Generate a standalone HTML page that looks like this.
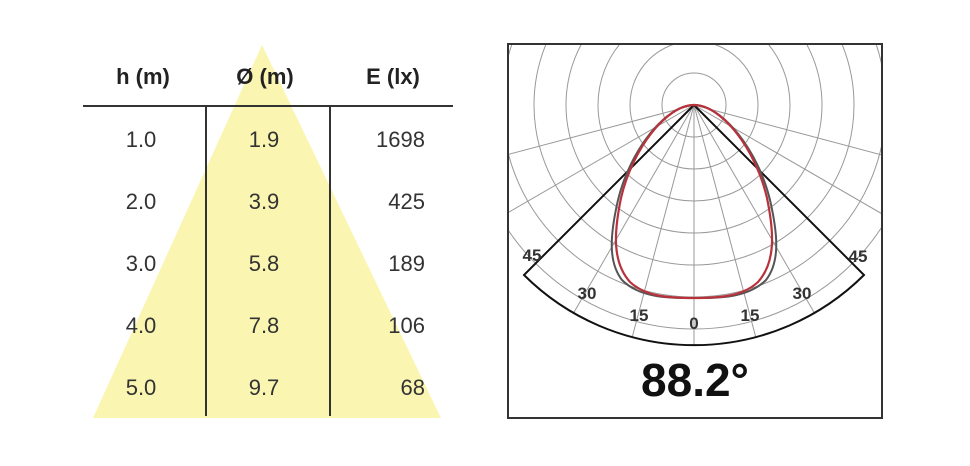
<!DOCTYPE html>
<html><head><style>body{margin:0;background:#fff}</style></head><body>
<svg width="970" height="461" xmlns="http://www.w3.org/2000/svg" font-family="'Liberation Sans',sans-serif">
<rect width="970" height="461" fill="#fff"/>
<polygon points="262,45 93,418 441,418" fill="#faf5b0"/>
<g font-size="22" font-weight="bold" fill="#222" text-anchor="middle">
<text x="143" y="84">h (m)</text><text x="265" y="84">Ø (m)</text><text x="393" y="84">E (lx)</text>
</g>
<line x1="83" y1="106" x2="453" y2="106" stroke="#333" stroke-width="2"/>
<line x1="206" y1="106" x2="206" y2="416" stroke="#333" stroke-width="2"/>
<line x1="330" y1="106" x2="330" y2="416" stroke="#333" stroke-width="2"/>
<g font-size="22" fill="#333">
<g text-anchor="middle">
<text x="141" y="147">1.0</text><text x="141" y="209">2.0</text><text x="141" y="271">3.0</text><text x="141" y="333">4.0</text><text x="141" y="395">5.0</text>
<text x="264" y="147">1.9</text><text x="264" y="209">3.9</text><text x="264" y="271">5.8</text><text x="264" y="333">7.8</text><text x="264" y="395">9.7</text>
</g>
<g text-anchor="end">
<text x="425" y="147">1698</text><text x="425" y="209">425</text><text x="425" y="271">189</text><text x="425" y="333">106</text><text x="425" y="395">68</text>
</g></g>
<defs><clipPath id="c"><rect x="509" y="45" width="372" height="372"/></clipPath></defs>
<g clip-path="url(#c)" stroke="#999" stroke-width="1" fill="none">
<circle cx="694" cy="105" r="32"/><circle cx="694" cy="105" r="64"/><circle cx="694" cy="105" r="96"/>
<circle cx="694" cy="105" r="128"/><circle cx="694" cy="105" r="160"/><circle cx="694" cy="105" r="192"/>
<circle cx="694" cy="105" r="224"/>
<line x1="694" y1="105" x2="694" y2="346"/>
<line x1="694" y1="105" x2="756" y2="338"/><line x1="694" y1="105" x2="632" y2="338"/>
<line x1="694" y1="105" x2="815" y2="314"/><line x1="694" y1="105" x2="573" y2="314"/>
<line x1="694" y1="105" x2="864" y2="275"/><line x1="694" y1="105" x2="524" y2="275"/>
<line x1="694" y1="105" x2="903" y2="226"/><line x1="694" y1="105" x2="485" y2="226"/>
<line x1="694" y1="105" x2="927" y2="167"/><line x1="694" y1="105" x2="461" y2="167"/>
</g>
<rect x="508" y="44" width="374" height="374" fill="none" stroke="#333" stroke-width="2"/>
<path d="M694,105 L524,275 A241,241 0 0 0 864,275 Z" fill="none" stroke="#111" stroke-width="2"/>
<path d="M694,105 C666,105 630,150 618,200 C610,235 608,262 622,280 C640,298 668,298 694,298 C720,298 748,298 766,280 C780,262 778,235 770,200 C758,150 722,105 694,105 Z" fill="none" stroke="#555" stroke-width="2"/>
<path d="M694,105 C666,105 632,150 621,198 C614,232 612,262 630,282 C646,297 670,298 694,298 C718,298 742,297 758,282 C776,262 774,232 767,198 C756,150 722,105 694,105 Z" fill="none" stroke="#b8323c" stroke-width="2.2"/>
<g font-size="17" font-weight="bold" fill="#333" text-anchor="middle">
<text x="532" y="261">45</text><text x="858" y="262">45</text>
<text x="587" y="299">30</text><text x="802" y="299">30</text>
<text x="639" y="321">15</text><text x="750" y="321">15</text>
<text x="694" y="329">0</text>
</g>
<text x="695" y="396" font-size="46" font-weight="bold" fill="#111" text-anchor="middle">88.2°</text>
</svg>
</body></html>
